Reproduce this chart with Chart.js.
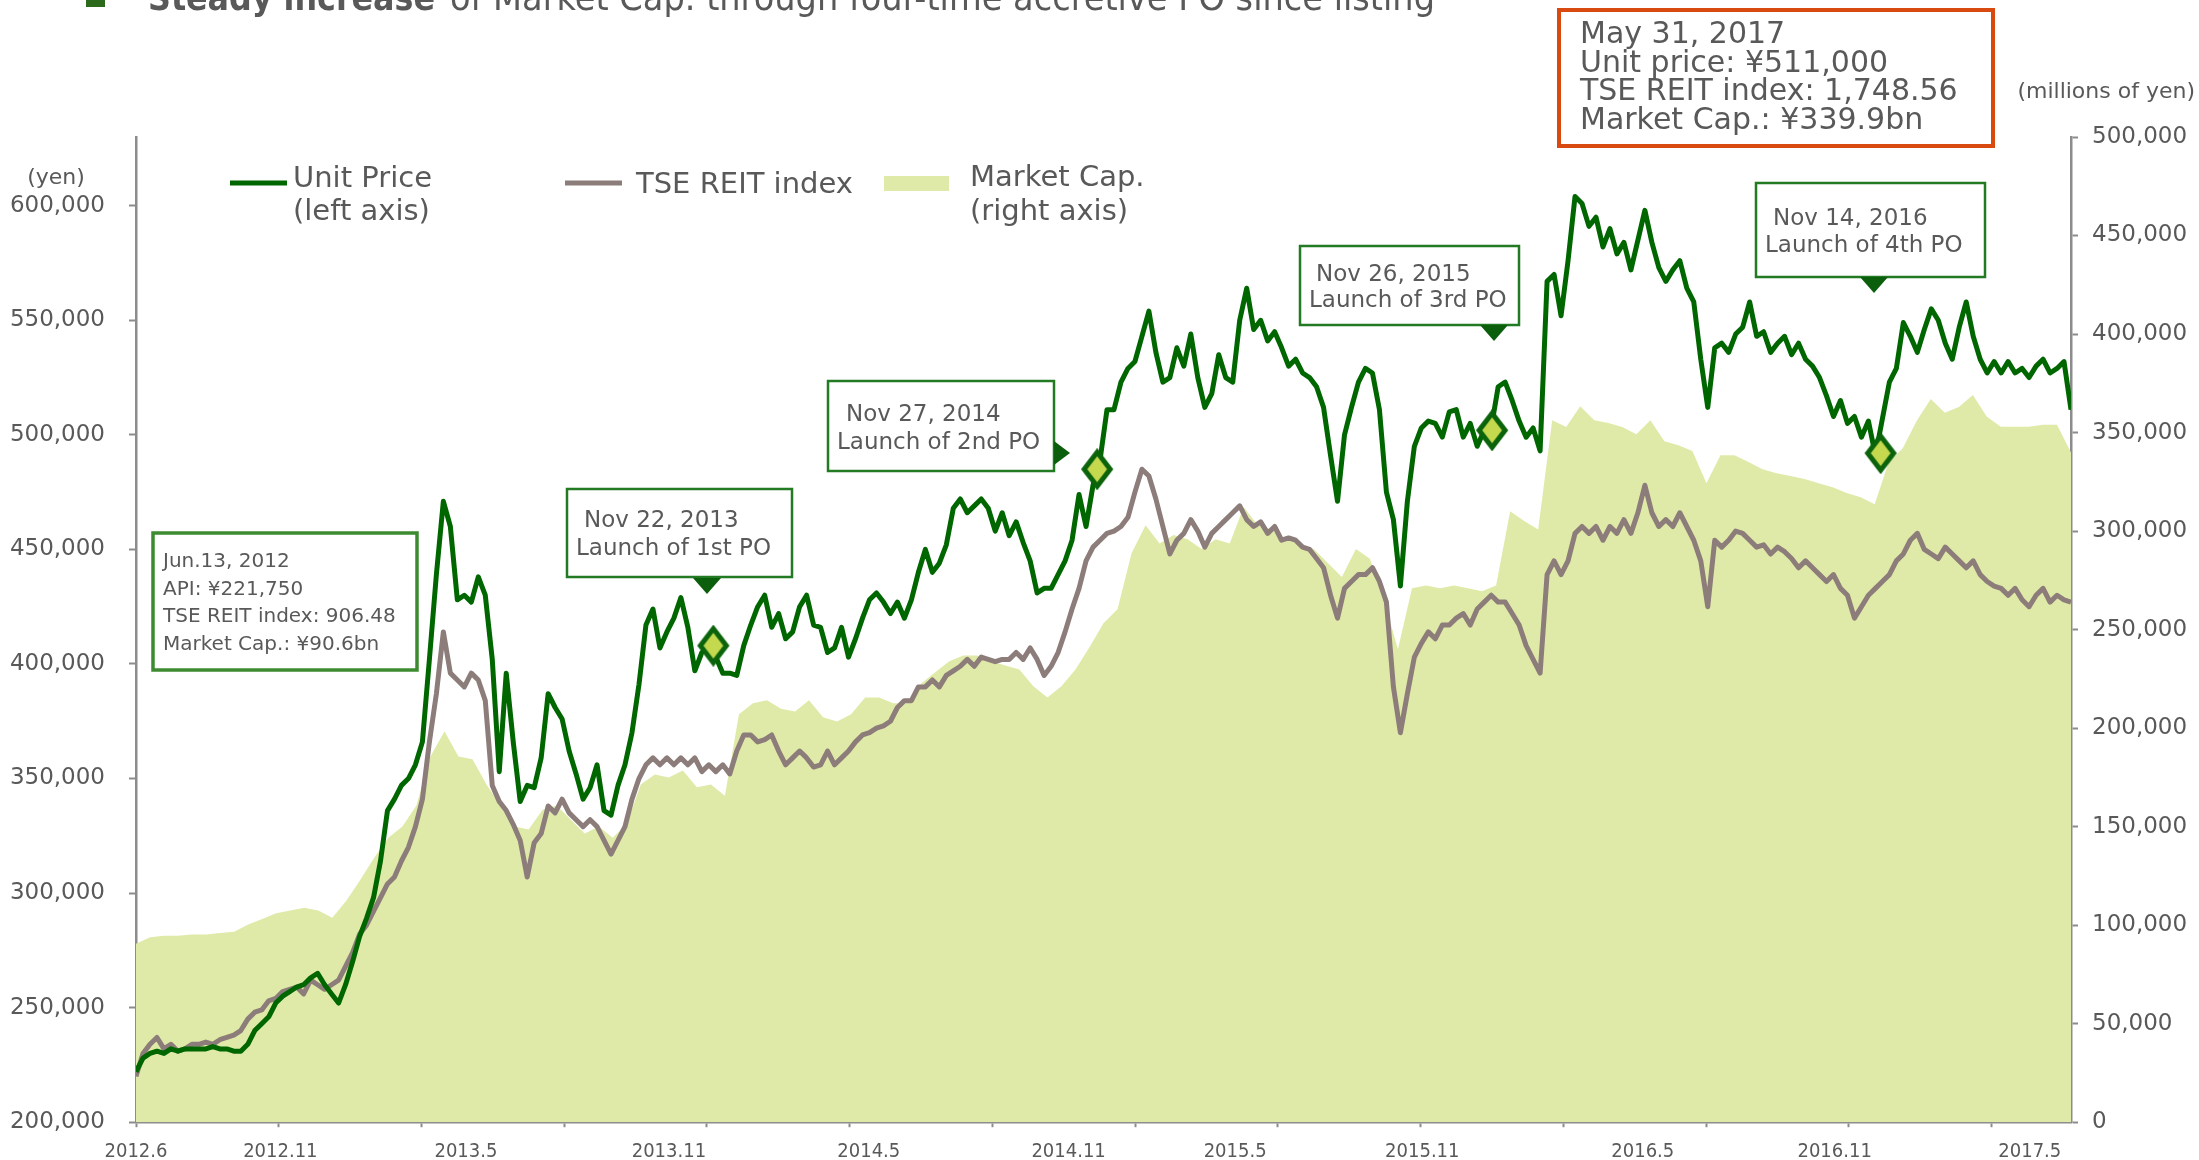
<!DOCTYPE html>
<html>
<head>
<meta charset="utf-8">
<script src="https://cdn.jsdelivr.net/npm/chart.js@4.4.0/dist/chart.umd.min.js"></script>
<style>
  html, body { margin: 0; padding: 0; background: #fff; }
  canvas { display: block; }
</style>
</head>
<body>
<canvas id="chart" width="2199" height="1160"></canvas>
<script>
// Trading days shown on the x axis (Jun.13, 2012 -> May 31, 2017)
const TOTAL_DAYS = 1220;
const TICK_EVERY = 90;

const monthLabels = ['2012.6', '2012.11', '2013.5', '2013.11', '2014.5', '2014.11', '2015.5', '2015.11', '2016.5', '2016.11', '2017.5'];
const monthLabelDays = [0, 91, 208, 336, 462, 588, 693, 811, 950, 1071, 1194];

const priceTicks = [200000, 250000, 300000, 350000, 400000, 450000, 500000, 550000, 600000];
const capTicks = [0, 50000, 100000, 150000, 200000, 250000, 300000, 350000, 400000, 450000, 500000];

// Unit price (yen), evenly spaced over the period
const unitPrice = [
  222000, 228000, 230000, 231000, 230000, 232000, 231000, 232000, 232000, 232000, 232000, 233000, 232000, 232000, 231000, 231000,
  234000, 240000, 243000, 246000, 252000, 255000, 257000, 259000, 260000, 263000, 265000, 260000, 256000, 252000, 260000, 270000,
  281000, 289000, 298000, 314000, 336000, 341000, 347000, 350000, 356000, 366000,
  402000, 439000, 471000, 460000, 428000, 430000, 427000, 438000, 430000, 402000, 353000, 396000, 366000, 340000, 347000, 346000, 359000, 387000, 381000, 376000,
  362000, 352000, 341000, 346000, 356000, 336000, 334000, 347000, 356000, 370000, 391000, 417000, 424000, 407000, 414000, 420000, 429000, 416000, 397000, 405000,
  407000, 403000, 396000, 396000, 395000, 408000, 417000, 425000, 430000, 416000, 422000, 411000, 414000, 425000, 430000, 417000, 416000, 405000, 407000, 416000,
  403000, 411000, 420000, 428000, 431000, 427000, 422000, 427000, 420000, 428000, 440000, 450000, 440000, 444000, 452000, 468000, 472000, 466000, 469000, 472000,
  468000, 458000, 466000, 456000, 462000, 453000, 445000, 431000, 433000, 433000, 439000, 445000, 454000, 474000, 460000, 478000, 489000, 511000, 511000, 523000,
  529000, 532000, 543000, 554000, 536000, 523000, 525000, 538000, 530000, 544000, 525000, 512000, 518000, 535000, 525000, 523000, 550000, 564000, 546000, 550000,
  541000, 545000, 538000, 530000, 533000, 527000, 525000, 521000, 512000, 491000, 471000, 500000, 512000, 523000, 529000, 527000, 511000, 475000, 463000, 434000,
  471000, 495000, 503000, 506000, 505000, 499000, 510000, 511000, 499000, 505000, 495000, 502000, 503000, 521000, 523000, 515000, 506000, 499000, 503000, 493000,
  567000, 570000, 552000, 576000, 604000, 601000, 591000, 595000, 582000, 590000, 579000, 584000, 572000, 585000, 598000, 584000, 573000, 567000, 572000, 576000,
  564000, 558000, 533000, 512000, 538000, 540000, 536000, 544000, 547000, 558000, 543000, 545000, 536000, 540000, 543000, 535000, 540000, 533000, 530000, 525000,
  517000, 508000, 515000, 505000, 508000, 499000, 506000, 491000, 507000, 523000, 529000, 549000, 543000, 536000, 546000, 555000, 550000, 540000, 533000, 547000,
  558000, 543000, 533000, 527000, 532000, 527000, 532000, 527000, 529000, 525000, 530000, 533000, 527000, 529000, 532000,
  511000
];

// TSE REIT index, rebased to the unit price on Jun.13, 2012 (left axis)
const reitRebased = [
  220000, 230000, 234000, 237000, 232000, 234000, 231000, 232000, 234000, 234000, 235000, 234000, 236000, 237000, 238000, 240000,
  245000, 248000, 249000, 253000, 254000, 257000, 258000, 259000, 256000, 262000, 260000, 258000, 260000, 262000, 268000, 274000,
  282000, 286000, 292000, 298000, 304000, 307000, 314000, 320000, 329000, 341000,
  366000, 387000, 414000, 396000, 393000, 390000, 396000, 393000, 384000, 347000, 340000, 336000, 330000, 323000, 307000, 322000, 326000, 338000, 335000, 341000,
  335000, 332000, 329000, 332000, 329000, 323000, 317000, 323000, 329000, 341000, 350000, 356000, 359000, 356000, 359000, 356000, 359000, 356000, 359000, 353000,
  356000, 353000, 356000, 352000, 362000, 369000, 369000, 366000, 367000, 369000, 362000, 356000, 359000, 362000, 359000, 355000, 356000, 362000, 356000, 359000,
  362000, 366000, 369000, 370000, 372000, 373000, 375000, 381000, 384000, 384000, 390000, 390000, 393000, 390000, 395000, 397000, 399000, 402000, 399000, 403000,
  402000, 401000, 402000, 402000, 405000, 402000, 407000, 402000, 395000, 399000, 405000, 414000, 424000, 433000, 445000, 451000, 454000, 457000, 458000, 460000,
  464000, 475000, 485000, 482000, 472000, 460000, 448000, 454000, 457000, 463000, 458000, 451000, 457000, 460000, 463000, 466000, 469000, 463000, 460000, 462000,
  457000, 460000, 454000, 455000, 454000, 451000, 450000, 446000, 442000, 430000, 420000, 433000, 436000, 439000, 439000, 442000, 436000, 427000, 390000, 370000,
  387000, 403000, 409000, 414000, 411000, 417000, 417000, 420000, 422000, 417000, 424000, 427000, 430000, 427000, 427000, 422000, 417000, 408000, 402000, 396000,
  439000, 445000, 439000, 445000, 457000, 460000, 457000, 460000, 454000, 460000, 457000, 463000, 457000, 466000, 478000, 466000, 460000, 463000, 460000, 466000,
  460000, 454000, 445000, 425000, 454000, 451000, 454000, 458000, 457000, 454000, 451000, 452000, 448000, 451000, 449000, 446000, 442000, 445000, 442000, 439000,
  436000, 439000, 433000, 430000, 420000, 425000, 430000, 433000, 436000, 439000, 445000, 448000, 454000, 457000, 450000, 448000, 446000, 451000, 448000, 445000,
  442000, 445000, 439000, 436000, 434000, 433000, 430000, 433000, 428000, 425000, 430000, 433000, 427000, 430000, 428000,
  427000
];

// Market capitalisation (millions of yen, right axis), evenly spaced over the period
const marketCap = [
  90600, 93900, 94600, 94600, 95300, 95300, 96000, 96700, 100300, 103100, 106000, 107400, 108800, 107400, 103800, 112400,
  123000, 134400, 144400, 150100, 160700, 185600, 198400, 185600, 184200, 171400, 160700, 150100, 148600, 158600, 160700, 153600,
  146500, 150100, 144400, 151500, 171400, 176400, 175000, 178500, 170000, 171400, 165700, 207000, 212600, 214100, 209800, 208400,
  214100, 205500, 203400, 207000, 215500, 215500, 212600, 212600, 222600, 228300, 234000, 236800, 236800, 234000, 231800, 229700,
  221200, 215500, 221200, 229700, 241100, 253200, 260300, 288700, 303000, 293700, 298000, 295900, 290900, 295900, 293700, 312200,
  303000, 300800, 295900, 293700, 290900, 283800, 276700, 290900, 286000, 265000, 240000, 271000, 272400, 271000, 272400, 271000,
  269500, 272400, 310100, 305100, 300800, 356300, 352800, 363400, 356300, 354900, 352800, 349200, 356300, 345600, 343500, 340700,
  324300, 338500, 338500, 335000, 331400, 329300, 327900, 326400, 324300, 322200, 319300, 317200, 313600, 335000, 342000, 356000,
  367000, 360000, 363000, 369000, 358000, 353000, 353000, 353000, 354000, 354000, 339900
];

// Public offerings: launch day and unit price on that day
const poDays = [364, 606, 855, 1100];
const poPrices = [408000, 485000, 502000, 492000];
const poDates = ['Nov 22, 2013', 'Nov 27, 2014', 'Nov 26, 2015', 'Nov 14, 2016'];
const poNames = ['Launch of 1st PO', 'Launch of 2nd PO', 'Launch of 3rd PO', 'Launch of 4th PO'];

const listingNote = ['Jun.13, 2012', 'API: \u00a5221,750', 'TSE REIT index: 906.48', 'Market Cap.: \u00a590.6bn'];
const latestNote = ['May 31, 2017', 'Unit price: \u00a5511,000', 'TSE REIT index: 1,748.56', 'Market Cap.: \u00a5339.9bn'];

const FONT = '"DejaVu Sans", sans-serif';
const NARROW = '"DejaVu Sans Condensed", "DejaVu Sans", sans-serif';
const TEXT = '#595959';
const AXIS = '#8c8c8c';
const GREEN = '#006600';
const GREY = '#8c7c7a';
const LIME = '#dfeaa8';

// helpers
const spread = arr => arr.map((v, i) => ({ x: i * TOTAL_DAYS / (arr.length - 1), y: v }));

const xTicks = [];
for (let d = 0; d <= TOTAL_DAYS; d += TICK_EVERY) xTicks.push({ value: d, mark: true, label: '' });
monthLabels.forEach((lab, i) => {
  const hit = xTicks.find(t => t.value === monthLabelDays[i]);
  if (hit) hit.label = lab;
  else xTicks.push({ value: monthLabelDays[i], mark: false, label: lab });
});
xTicks.sort((a, b) => a.value - b.value);

function diamond(w, h) {
  const c = document.createElement('canvas');
  c.width = w; c.height = h;
  const g = c.getContext('2d');
  g.beginPath();
  g.moveTo(w / 2, 4); g.lineTo(w - 4, h / 2); g.lineTo(w / 2, h - 4); g.lineTo(4, h / 2);
  g.closePath();
  g.fillStyle = '#c5d94f'; g.fill();
  g.lineWidth = 5; g.strokeStyle = '#0b640b'; g.stroke();
  return c;
}

// layout of the call-out boxes (pixels)
const poBoxes = [
  { x: 567, y: 489, w: 225, h: 88, t1: [584, 527], t2: [576, 555], arrow: 'down', ax: 707, ay: 578 },
  { x: 828, y: 381, w: 226, h: 90, t1: [846, 421], t2: [837, 449], arrow: 'right', ax: 1054, ay: 453 },
  { x: 1300, y: 246, w: 219, h: 79, t1: [1316, 281], t2: [1309, 307], arrow: 'down', ax: 1494, ay: 325 },
  { x: 1756, y: 183, w: 229, h: 94, t1: [1773, 225], t2: [1765, 252], arrow: 'down', ax: 1874, ay: 277 }
];

function fitText(ctx, text, x, y, width) {
  const m = ctx.measureText(text).width;
  ctx.save();
  ctx.translate(x, y);
  ctx.scale(width / m, 1);
  ctx.fillText(text, 0, 0);
  ctx.restore();
}

const overlay = {
  id: 'overlay',
  afterDraw(chart) {
    const ctx = chart.ctx;
    ctx.save();
    ctx.textBaseline = 'alphabetic';
    ctx.textAlign = 'left';

    // heading (cropped at the top edge)
    ctx.fillStyle = '#2b6a1b';
    ctx.fillRect(86, -11, 19, 18);
    ctx.fillStyle = TEXT;
    ctx.font = 'bold 36px ' + FONT;
    fitText(ctx, 'Steady increase', 148, 10, 287);
    ctx.font = '36px ' + FONT;
    fitText(ctx, 'of Market Cap. through four-time accretive PO since listing', 450, 10, 985);

    // axis units
    ctx.font = '22px ' + FONT;
    ctx.textAlign = 'center';
    ctx.fillText('(yen)', 56, 184);
    ctx.textAlign = 'right';
    ctx.fillText('(millions of yen)', 2195, 98);
    ctx.textAlign = 'left';

    // legend
    const ds = chart.data.datasets;
    ctx.lineWidth = 5;
    ctx.strokeStyle = ds[1].borderColor;
    ctx.beginPath(); ctx.moveTo(230, 183); ctx.lineTo(287, 183); ctx.stroke();
    ctx.strokeStyle = ds[2].borderColor;
    ctx.beginPath(); ctx.moveTo(565, 183); ctx.lineTo(622, 183); ctx.stroke();
    ctx.fillStyle = ds[3].backgroundColor;
    ctx.fillRect(884, 176, 65, 15);
    ctx.fillStyle = TEXT;
    ctx.font = '29px ' + FONT;
    ctx.fillText(ds[1].label[0], 293, 187);
    ctx.fillText(ds[1].label[1], 293, 220);
    ctx.fillText(ds[2].label, 636, 193);
    ctx.fillText(ds[3].label[0], 970, 186);
    ctx.fillText(ds[3].label[1], 970, 220);

    // listing note
    ctx.fillStyle = '#fff';
    ctx.fillRect(153, 533, 264, 137);
    ctx.lineWidth = 3.5;
    ctx.strokeStyle = '#3d8a30';
    ctx.strokeRect(153, 533, 264, 137);
    ctx.fillStyle = TEXT;
    ctx.font = '20px ' + FONT;
    listingNote.forEach((s, i) => ctx.fillText(s, 163, 567 + i * 27.7));

    // PO call-outs
    poBoxes.forEach((b, i) => {
      ctx.fillStyle = '#fff';
      ctx.fillRect(b.x, b.y, b.w, b.h);
      ctx.lineWidth = 2.5;
      ctx.strokeStyle = '#227a22';
      ctx.strokeRect(b.x, b.y, b.w, b.h);
      ctx.fillStyle = '#0b5e0b';
      ctx.beginPath();
      if (b.arrow === 'down') {
        ctx.moveTo(b.ax - 14, b.ay); ctx.lineTo(b.ax + 14, b.ay); ctx.lineTo(b.ax, b.ay + 16);
      } else {
        ctx.moveTo(b.ax, b.ay - 12); ctx.lineTo(b.ax, b.ay + 12); ctx.lineTo(b.ax + 16, b.ay);
      }
      ctx.closePath(); ctx.fill();
      ctx.fillStyle = TEXT;
      ctx.font = '23px ' + FONT;
      ctx.fillText(poDates[i], b.t1[0], b.t1[1]);
      ctx.fillText(poNames[i], b.t2[0], b.t2[1]);
    });

    // latest note
    ctx.fillStyle = '#fff';
    ctx.fillRect(1559, 10, 434, 136);
    ctx.lineWidth = 4;
    ctx.strokeStyle = '#d94a10';
    ctx.strokeRect(1559, 10, 434, 136);
    ctx.fillStyle = TEXT;
    ctx.font = '30px ' + FONT;
    latestNote.forEach((s, i) => ctx.fillText(s, 1580, 43 + i * 28.5));

    ctx.restore();
  }
};

new Chart(document.getElementById('chart'), {
  type: 'line',
  data: {
    datasets: [
      {
        type: 'scatter', label: 'PO', data: poDays.map((d, i) => ({ x: d, y: poPrices[i] })),
        yAxisID: 'y', pointStyle: diamond(34, 42), pointRadius: 17, order: 0
      },
      {
        label: ['Unit Price', '(left axis)'], data: spread(unitPrice), yAxisID: 'y',
        borderColor: GREEN, borderWidth: 5, pointRadius: 0, tension: 0,
        borderJoinStyle: 'round', fill: false, order: 1
      },
      {
        label: 'TSE REIT index', data: spread(reitRebased), yAxisID: 'y',
        borderColor: GREY, borderWidth: 5, pointRadius: 0, tension: 0,
        borderJoinStyle: 'round', fill: false, order: 2
      },
      {
        label: ['Market Cap.', '(right axis)'], data: spread(marketCap), yAxisID: 'y1',
        borderWidth: 0, borderColor: LIME, backgroundColor: LIME, pointRadius: 0, tension: 0,
        fill: 'origin', order: 3
      }
    ]
  },
  options: {
    responsive: false,
    animation: false,
    devicePixelRatio: 1,
    layout: { padding: { top: 137, left: 0, right: 0, bottom: 0 } },
    plugins: { legend: { display: false }, tooltip: { enabled: false } },
    scales: {
      x: {
        type: 'linear', min: 0, max: TOTAL_DAYS, position: 'bottom',
        afterBuildTicks: s => { s.ticks = xTicks.map(t => ({ ...t })); },
        afterFit: s => { s.height = 37; },
        grid: {
          drawOnChartArea: false, tickLength: 5, tickWidth: 2,
          tickColor: c => (c.tick && c.tick.mark ? AXIS : 'rgba(0,0,0,0)')
        },
        border: { color: AXIS, width: 2.5 },
        ticks: {
          autoSkip: false, maxRotation: 0, padding: 13, color: TEXT,
          font: { family: NARROW, size: 20 },
          callback: (v, i, ticks) => ticks[i].label
        }
      },
      y: {
        type: 'linear', position: 'left', min: 200000, max: 630000,
        afterBuildTicks: s => { s.ticks = priceTicks.map(v => ({ value: v })); },
        afterFit: s => { s.width = 136; },
        grid: { drawOnChartArea: false, tickLength: 7, tickWidth: 2, tickColor: AXIS },
        border: { color: AXIS, width: 2.5 },
        ticks: { padding: 24, color: TEXT, font: { family: FONT, size: 23 }, callback: v => v.toLocaleString('en-US') }
      },
      y1: {
        type: 'linear', position: 'right', min: 0, max: 500000,
        afterBuildTicks: s => { s.ticks = capTicks.map(v => ({ value: v })); },
        afterFit: s => { s.width = 128; },
        grid: { drawOnChartArea: false, tickLength: 7, tickWidth: 2, tickColor: AXIS },
        border: { color: AXIS, width: 2.5 },
        ticks: { padding: 14, color: TEXT, font: { family: FONT, size: 23 }, callback: v => v.toLocaleString('en-US') }
      }
    }
  },
  plugins: [overlay]
});
</script>
</body>
</html>
